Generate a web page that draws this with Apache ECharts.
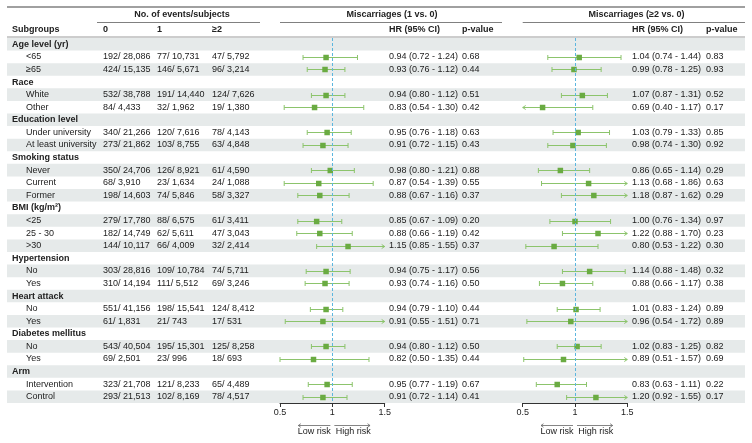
<!DOCTYPE html>
<html><head><meta charset="utf-8">
<script src="https://cdn.jsdelivr.net/npm/echarts@6/dist/echarts.min.js"></script>
<style>html,body{margin:0;padding:0;background:#fff}#c{width:752px;height:443px}</style>
</head><body><div id="c"></div>
<script>
// ---------- data ----------
const groupNames = ['Age level (yr)', 'Race', 'Education level', 'Smoking status', 'BMI (kg/m²)', 'Hypertension', 'Heart attack', 'Diabetes mellitus', 'Arm'];
const groupSizes = [2, 2, 2, 3, 3, 2, 2, 2, 2];
const subLabels = ['<65', '≥65', 'White', 'Other', 'Under university', 'At least university', 'Never', 'Current', 'Former', '<25', '25 - 30', '>30', 'No', 'Yes', 'No', 'Yes', 'No', 'Yes', 'Intervention', 'Control'];

const events0 = [192, 424, 532, 84, 340, 273, 350, 68, 198, 279, 182, 144, 303, 310, 551, 61, 543, 69, 323, 293];
const subjects0 = [28086, 15135, 38788, 4433, 21266, 21862, 24706, 3910, 14603, 17780, 14749, 10117, 28816, 14194, 41156, 1831, 40504, 2501, 21708, 21513];
const events1 = [77, 146, 191, 32, 120, 103, 126, 23, 74, 88, 62, 66, 109, 111, 198, 21, 195, 23, 121, 102];
const subjects1 = [10731, 5671, 14440, 1962, 7616, 8755, 8921, 1634, 5846, 6575, 5611, 4009, 10784, 5512, 15541, 743, 15301, 996, 8233, 8169];
const events2 = [47, 96, 124, 19, 78, 63, 61, 24, 58, 61, 47, 32, 74, 69, 124, 17, 125, 18, 65, 78];
const subjects2 = [5792, 3214, 7626, 1380, 4143, 4848, 4590, 1088, 3327, 3411, 3043, 2414, 5711, 3246, 8412, 531, 8258, 693, 4489, 4517];

const hr1 = [0.94, 0.93, 0.94, 0.83, 0.95, 0.91, 0.98, 0.87, 0.88, 0.85, 0.88, 1.15, 0.94, 0.93, 0.94, 0.91, 0.94, 0.82, 0.95, 0.91];
const lo1 = [0.72, 0.76, 0.80, 0.54, 0.76, 0.72, 0.80, 0.54, 0.67, 0.67, 0.66, 0.85, 0.75, 0.74, 0.79, 0.55, 0.80, 0.50, 0.77, 0.72];
const hi1 = [1.24, 1.12, 1.12, 1.30, 1.18, 1.15, 1.21, 1.39, 1.16, 1.09, 1.19, 1.55, 1.17, 1.16, 1.10, 1.51, 1.12, 1.35, 1.19, 1.14];
const p1 = [0.68, 0.44, 0.51, 0.42, 0.63, 0.43, 0.88, 0.55, 0.37, 0.20, 0.42, 0.37, 0.56, 0.50, 0.44, 0.71, 0.50, 0.44, 0.67, 0.41];

const hr2 = [1.04, 0.99, 1.07, 0.69, 1.03, 0.98, 0.86, 1.13, 1.18, 1.00, 1.22, 0.80, 1.14, 0.88, 1.01, 0.96, 1.02, 0.89, 0.83, 1.20];
const lo2 = [0.74, 0.78, 0.87, 0.40, 0.79, 0.74, 0.65, 0.68, 0.87, 0.76, 0.88, 0.53, 0.88, 0.66, 0.83, 0.54, 0.83, 0.51, 0.63, 0.92];
const hi2 = [1.44, 1.25, 1.31, 1.17, 1.33, 1.30, 1.14, 1.86, 1.62, 1.34, 1.70, 1.22, 1.48, 1.17, 1.24, 1.72, 1.25, 1.57, 1.11, 1.55];
const p2 = [0.83, 0.93, 0.52, 0.17, 0.85, 0.92, 0.29, 0.63, 0.29, 0.97, 0.23, 0.30, 0.32, 0.38, 0.89, 0.89, 0.82, 0.69, 0.22, 0.17];

const xTicks = [0.5, 1, 1.5];
const xMin = 0.5, xMax = 1.5;

// ---------- rows ----------
const rows = [];      // {type:'g'|'s', label, k}
const subRow = [];    // row index of each subgroup
let k = 0;
groupNames.forEach((g, gi) => {
  rows.push({type: 'g', label: g});
  for (let j = 0; j < groupSizes[gi]; j++) {
    subRow.push(rows.length);
    rows.push({type: 's', label: subLabels[k], k: k});
    k++;
  }
});
const rowCats = rows.map((r, i) => String(i));

// ---------- style ----------
const FONT = '"Liberation Sans", Arial, sans-serif';
const TXT = '#222';
const STRIPE = '#e6eaea';
const LINE_C = '#8cc46c';
const SQ_C = '#6aab42';
const REF_C = '#5cb6de';
const FS = 9;

const fmt = n => n.toLocaleString('en-US');
const f2 = v => v.toFixed(2);

const col = {group: 12, sub: 26, c0: 103, c1: 157, c2: 212, hr1: 389, p1: 462, hr2: 632, p2: 706};

function stripeItem(params, api) {
  const i = api.value(0);
  const p = api.coord([0, i]);
  const s = api.size([0, 1]);
  const cs = params.coordSys;
  return {type: 'rect', shape: {x: cs.x, y: p[1] - s[1] / 2, width: cs.width, height: s[1]},
    style: {fill: STRIPE}, silent: true};
}

function txt(text, x, y, bold) {
  return {type: 'text', style: {text: text, x: x, y: y, fill: TXT, fontSize: FS, fontFamily: FONT,
    fontWeight: bold ? 'bold' : 'normal', align: 'left', verticalAlign: 'middle'}};
}

function tableItem(params, api) {
  const i = api.value(0);
  const y = api.coord([0, i])[1];
  const r = rows[i];
  if (r.type === 'g') return {type: 'group', children: [txt(r.label, col.group, y, true)]};
  const q = r.k;
  return {type: 'group', children: [
    txt(r.label, col.sub, y),
    txt(events0[q] + '/ ' + fmt(subjects0[q]), col.c0, y),
    txt(events1[q] + '/ ' + fmt(subjects1[q]), col.c1, y),
    txt(events2[q] + '/ ' + fmt(subjects2[q]), col.c2, y),
    txt(f2(hr1[q]) + ' (' + f2(lo1[q]) + ' - ' + f2(hi1[q]) + ')', col.hr1, y),
    txt(f2(p1[q]), col.p1, y),
    txt(f2(hr2[q]) + ' (' + f2(lo2[q]) + ' - ' + f2(hi2[q]) + ')', col.hr2, y),
    txt(f2(p2[q]), col.p2, y)
  ]};
}

function forestItem(params, api) {
  const r = api.value(0), hr = api.value(1), lo = api.value(2), hi = api.value(3);
  const a = api.coord([Math.max(lo, xMin), r]);
  const b = api.coord([Math.min(hi, xMax), r]);
  const c = api.coord([hr, r]);
  const y = Math.round(a[1]) + 0.5;
  const ls = {stroke: LINE_C, lineWidth: 1, fill: null};
  const ch = [{type: 'line', shape: {x1: a[0], y1: y, x2: b[0], y2: y}, style: ls}];
  if (lo < xMin) ch.push({type: 'polyline', shape: {points: [[a[0] + 3, y - 2], [a[0], y], [a[0] + 3, y + 2]]}, style: ls});
  else ch.push({type: 'line', shape: {x1: a[0], y1: y - 2.5, x2: a[0], y2: y + 2.5}, style: ls});
  if (hi > xMax) ch.push({type: 'polyline', shape: {points: [[b[0] - 3, y - 2], [b[0], y], [b[0] - 3, y + 2]]}, style: ls});
  else ch.push({type: 'line', shape: {x1: b[0], y1: y - 2.5, x2: b[0], y2: y + 2.5}, style: ls});
  ch.push({type: 'rect', shape: {x: c[0] - 2.75, y: y - 2.75, width: 5.5, height: 5.5}, style: {fill: SQ_C}});
  return {type: 'group', children: ch};
}

const gridTop = 38, gridH = 365;
const forestAxis = (gi) => ({
  gridIndex: gi, type: 'value', min: xMin, max: xMax, interval: 0.5,
  axisLine: {show: true, lineStyle: {color: '#333', width: 1}},
  axisTick: {show: true, length: 4, lineStyle: {color: '#333'}, customValues: xTicks},
  axisLabel: {fontSize: FS, color: TXT, fontFamily: FONT, margin: 5, customValues: xTicks},
  splitLine: {show: false}
});
const catAxis = (gi) => ({gridIndex: gi, type: 'category', data: rowCats, inverse: true, show: false});

const forestSeries = (gi, hr, lo, hi) => ({
  type: 'custom', xAxisIndex: gi, yAxisIndex: gi, renderItem: forestItem, clip: false, z: 3,
  encode: {x: [1, 2, 3], y: 0},
  data: subRow.map((ri, q) => [ri, hr[q], lo[q], hi[q]]),
  markLine: {silent: true, symbol: 'none', label: {show: false}, animation: false,
    lineStyle: {color: REF_C, type: [3, 2], width: 1}, data: [{xAxis: 1}]}
});

// header graphics
const G = [];
function gText(text, x, y, bold, align) {
  G.push({type: 'text', x: x, y: y, style: {text: text, fill: TXT, fontSize: FS, fontFamily: FONT,
    fontWeight: bold ? 'bold' : 'normal', align: align || 'left', verticalAlign: 'middle'}});
}
function gLine(x1, y1, x2, y2, color, w) {
  G.push({type: 'line', shape: {x1: x1, y1: y1, x2: x2, y2: y2}, style: {stroke: color, lineWidth: w}});
}
gLine(7, 7, 745, 7, '#808080', 1.5);
gText('No. of events/subjects', 182, 15, true, 'center');
gText('Miscarriages (1 vs. 0)', 392, 15, true, 'center');
gText('Miscarriages (≥2 vs. 0)', 636.5, 15, true, 'center');
gLine(97, 22.5, 260, 22.5, '#808080', 1);
gLine(280, 22.5, 502, 22.5, '#808080', 1);
gLine(522.7, 22.5, 745, 22.5, '#808080', 1);
gText('Subgroups', col.group, 30, true);
gText('0', col.c0, 30, true);
gText('1', col.c1, 30, true);
gText('≥2', col.c2, 30, true);
gText('HR (95% CI)', col.hr1, 30, true);
gText('p-value', col.p1, 30, true);
gText('HR (95% CI)', col.hr2, 30, true);
gText('p-value', col.p2, 30, true);
gLine(7, 37, 745, 37, '#9a9a9a', 1);

function riskArrows(x0, x1p) {
  const y = 425.5, c = '#666';
  const xl = x0 + (x1p - x0) * 0.175, xm = (x0 + x1p) / 2, xr = x0 + (x1p - x0) * 0.86;
  gLine(xm - 2, y, xl, y, c, 0.8);
  G.push({type: 'polyline', shape: {points: [[xl + 2.5, y - 1.8], [xl, y], [xl + 2.5, y + 1.8]]}, style: {stroke: c, lineWidth: 0.8, fill: null}});
  gLine(xm + 2, y, xr, y, c, 0.8);
  G.push({type: 'polyline', shape: {points: [[xr - 2.5, y - 1.8], [xr, y], [xr - 2.5, y + 1.8]]}, style: {stroke: c, lineWidth: 0.8, fill: null}});
  gText('Low risk', (xl + xm - 2) / 2, 432, false, 'center');
  gText('High risk', (xm + 2 + xr) / 2 + 1, 432, false, 'center');
}
riskArrows(280, 384.7);
riskArrows(522.7, 627.3);

const option = {
  animation: false,
  backgroundColor: '#fff',
  textStyle: {fontFamily: FONT},
  grid: [
    {left: 7, top: gridTop, width: 738, height: gridH},
    {left: 280, top: gridTop, width: 104.7, height: gridH},
    {left: 522.7, top: gridTop, width: 104.6, height: gridH}
  ],
  xAxis: [
    {gridIndex: 0, type: 'value', min: 0, max: 738, show: false},
    forestAxis(1), forestAxis(2)
  ],
  yAxis: [catAxis(0), catAxis(1), catAxis(2)],
  series: [
    {type: 'custom', xAxisIndex: 0, yAxisIndex: 0, renderItem: stripeItem, z: 0, silent: true,
      encode: {x: 1, y: 0}, data: rows.map((r, i) => [i, 0]).filter(d => d[0] % 2 === 0)},
    {type: 'custom', xAxisIndex: 0, yAxisIndex: 0, renderItem: tableItem, z: 1, silent: true, clip: false,
      encode: {x: 1, y: 0}, data: rows.map((r, i) => [i, 0])},
    forestSeries(1, hr1, lo1, hi1),
    forestSeries(2, hr2, lo2, hi2)
  ],
  graphic: G
};
const chart = echarts.init(document.getElementById('c'), null, {renderer: 'canvas'});
chart.setOption(option);
</script></body></html>
